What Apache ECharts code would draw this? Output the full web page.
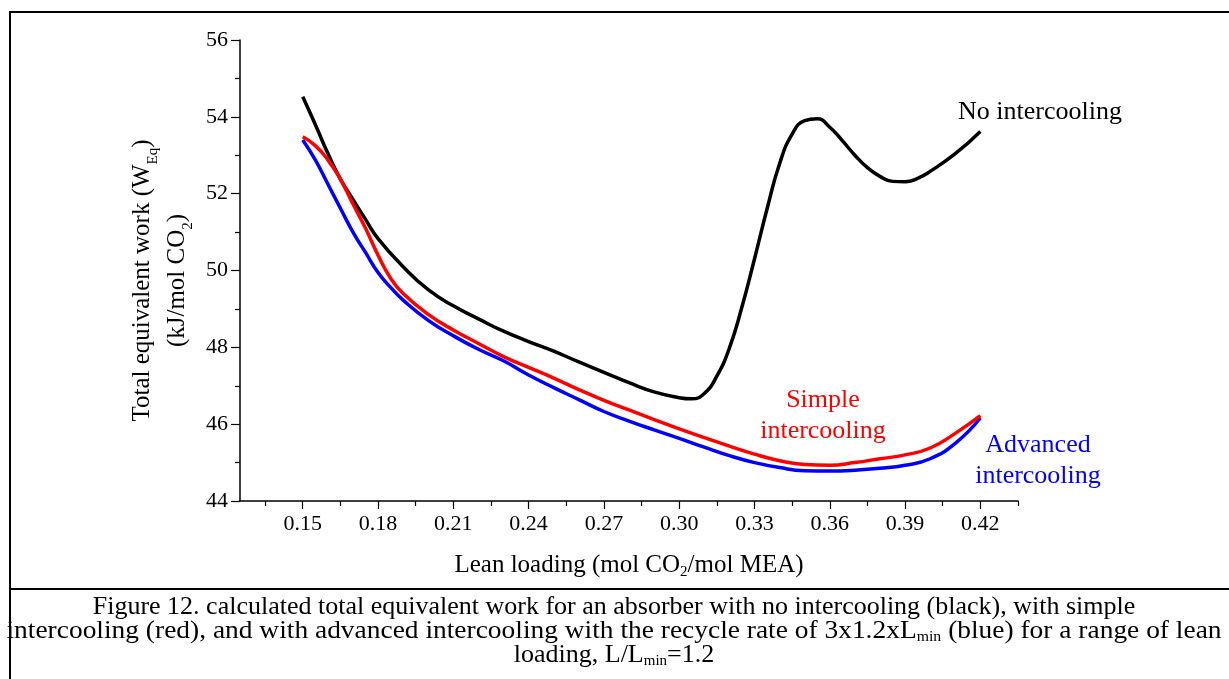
<!DOCTYPE html>
<html>
<head>
<meta charset="utf-8">
<script src="https://cdn.jsdelivr.net/npm/echarts@6/dist/echarts.min.js"></script>
<style>
  html, body { margin: 0; padding: 0; background: #fff; }
  #chart { width: 1229px; height: 679px; }
</style>
</head>
<body>
<div id="chart"></div>
<script>
// Lean loading (mol CO2/mol MEA) and total equivalent work (kJ/mol CO2)
const noIcLoading = [0.150, 0.155, 0.160, 0.165, 0.170, 0.175, 0.180, 0.190, 0.200, 0.210, 0.220, 0.230,
  0.240, 0.250, 0.260, 0.270, 0.280, 0.290, 0.300, 0.305, 0.310, 0.315, 0.320, 0.325, 0.330, 0.335,
  0.340, 0.345, 0.350, 0.355, 0.360, 0.365, 0.370, 0.375, 0.380, 0.385, 0.390, 0.395, 0.400, 0.410, 0.420];
const noIcWork = [54.52, 53.80, 53.05, 52.38, 51.85, 51.33, 50.83, 50.10, 49.50, 49.08, 48.74, 48.42,
  48.15, 47.90, 47.62, 47.35, 47.08, 46.84, 46.69, 46.66, 46.80, 47.25, 47.98, 49.05, 50.30, 51.60,
  52.78, 53.55, 53.90, 53.95, 53.73, 53.38, 53.00, 52.68, 52.45, 52.32, 52.31, 52.40, 52.58, 53.04, 53.62];

const icLoading = [0.150, 0.155, 0.160, 0.165, 0.170, 0.175, 0.180, 0.185, 0.190, 0.200, 0.210, 0.220,
  0.230, 0.240, 0.250, 0.260, 0.270, 0.280, 0.290, 0.300, 0.310, 0.320, 0.330, 0.340, 0.350, 0.360,
  0.370, 0.380, 0.390, 0.400, 0.410, 0.420];
const simpleWork = [53.48, 53.25, 52.88, 52.38, 51.73, 51.10, 50.40, 49.80, 49.40, 48.86, 48.45, 48.10,
  47.76, 47.48, 47.20, 46.90, 46.62, 46.37, 46.12, 45.88, 45.65, 45.43, 45.22, 45.05, 44.95, 44.93,
  45.00, 45.10, 45.20, 45.38, 45.76, 46.22];
const advancedWork = [53.40, 52.88, 52.25, 51.62, 51.00, 50.47, 49.95, 49.56, 49.23, 48.70, 48.30, 47.95,
  47.65, 47.28, 46.95, 46.64, 46.33, 46.08, 45.85, 45.63, 45.40, 45.18, 45.00, 44.87, 44.79, 44.78,
  44.80, 44.85, 44.93, 45.10, 45.50, 46.16];

const xMajorTicks = [0.15, 0.18, 0.21, 0.24, 0.27, 0.30, 0.33, 0.36, 0.39, 0.42];
const xMinorTicks = [0.135, 0.165, 0.195, 0.225, 0.255, 0.285, 0.315, 0.345, 0.375, 0.405, 0.435];

const captionLines = [
  'Figure 12. calculated total equivalent work for an absorber with no intercooling (black), with simple',
  'intercooling (red), and with advanced intercooling with the recycle rate of 3x1.2xL{sub|min} (blue) for a range of lean',
  'loading, L/L{sub|min}=1.2'
];
const captionStretch = [1, 1.055, 1];

const FONT = '"Liberation Serif", "Times New Roman", serif';
const zip = (xs, ys) => xs.map((x, i) => [x, ys[i]]);

const chart = echarts.init(document.getElementById('chart'), null, { renderer: 'canvas' });

const subStyle = (size, pad) => ({ fontSize: size, fontFamily: FONT, color: '#000', verticalAlign: 'bottom', padding: [pad, 0, 0, 0] });

const lineSeries = (name, xs, ys, color, z) => ({
  name, type: 'line', xAxisIndex: 0, smooth: 0.5, showSymbol: false,
  data: zip(xs, ys), lineStyle: { color, width: 3.5 }, z
});

const option = {
  animation: false,
  backgroundColor: '#fff',
  grid: { left: 240, top: 40, right: 211, bottom: 178, containLabel: false },
  xAxis: [
    {
      type: 'value',
      min: 0.125,
      max: 0.435,
      name: 'Lean loading (mol CO{sub|2}/mol MEA)',
      nameLocation: 'middle',
      nameGap: 50,
      nameTextStyle: {
        fontFamily: FONT, fontSize: 25, color: '#000',
        rich: { sub: subStyle(15, 14) }
      },
      axisLine: { show: true, lineStyle: { color: '#000', width: 1.5 } },
      axisTick: { show: true, inside: false, length: 8, customValues: xMajorTicks, lineStyle: { color: '#000', width: 1.2 } },
      axisLabel: {
        customValues: xMajorTicks,
        formatter: v => v.toFixed(2),
        fontFamily: FONT, fontSize: 22, color: '#000', margin: 12
      },
      splitLine: { show: false }
    },
    {
      // minor ticks between the labelled ones
      type: 'value',
      min: 0.125,
      max: 0.435,
      position: 'bottom',
      axisLine: { show: false },
      axisTick: { show: true, inside: false, length: 5, customValues: xMinorTicks, lineStyle: { color: '#000', width: 1.2 } },
      axisLabel: { show: false },
      splitLine: { show: false }
    }
  ],
  yAxis: {
    type: 'value',
    min: 44,
    max: 56,
    interval: 2,
    name: 'Total equivalent work (W{sub|Eq})\n(kJ/mol CO{sub|2})',
    nameLocation: 'middle',
    nameRotate: 90,
    nameGap: 29,
    nameTextStyle: {
      fontFamily: FONT, fontSize: 25, color: '#000', lineHeight: 35, align: 'center',
      padding: [0, 20, 0, 0],
      rich: { sub: subStyle(15, 14) }
    },
    axisLine: { show: true, lineStyle: { color: '#000', width: 1.5 } },
    axisTick: { show: true, inside: false, length: 9, lineStyle: { color: '#000', width: 1.2 } },
    minorTick: { show: true, splitNumber: 2, length: 5, lineStyle: { color: '#000', width: 1.2 } },
    axisLabel: { fontFamily: FONT, fontSize: 22, color: '#000', margin: 12 },
    splitLine: { show: false },
    minorSplitLine: { show: false }
  },
  series: [
    lineSeries('No intercooling', noIcLoading, noIcWork, '#000000', 3),
    lineSeries('Advanced intercooling', icLoading, advancedWork, '#0000ff', 4),
    lineSeries('Simple intercooling', icLoading, simpleWork, '#ff0000', 5)
  ],
  graphic: [
    // figure frame and caption divider
    { type: 'rect', shape: { x: 10, y: 12, width: 1240, height: 700 }, style: { fill: 'none', stroke: '#000', lineWidth: 2 }, silent: true },
    { type: 'line', shape: { x1: 10, y1: 589, x2: 1229, y2: 589 }, style: { stroke: '#000', lineWidth: 2 }, silent: true },
    // curve annotations
    { type: 'text', x: 1040, y: 112, style: { text: 'No intercooling', fontFamily: FONT, fontSize: 26, fill: '#000', align: 'center', verticalAlign: 'middle' } },
    { type: 'text', x: 823, y: 416, style: { text: 'Simple\nintercooling', fontFamily: FONT, fontSize: 26, lineHeight: 31, fill: '#ff0000', align: 'center', verticalAlign: 'middle' } },
    { type: 'text', x: 1038, y: 461, style: { text: 'Advanced\nintercooling', fontFamily: FONT, fontSize: 26, lineHeight: 31, fill: '#0000ff', align: 'center', verticalAlign: 'middle' } },
    // caption
    ...captionLines.map((line, i) => ({
      type: 'text', x: 614, y: 607 + i * 24, scaleX: captionStretch[i],
      style: {
        text: line, fontFamily: FONT, fontSize: 26, fill: '#000', align: 'center', verticalAlign: 'middle',
        rich: { sub: { fontSize: 15, fontFamily: FONT, fill: '#000', verticalAlign: 'bottom', padding: [12, 0, 0, 0] } }
      }
    }))
  ]
};

chart.setOption(option);
</script>
</body>
</html>
